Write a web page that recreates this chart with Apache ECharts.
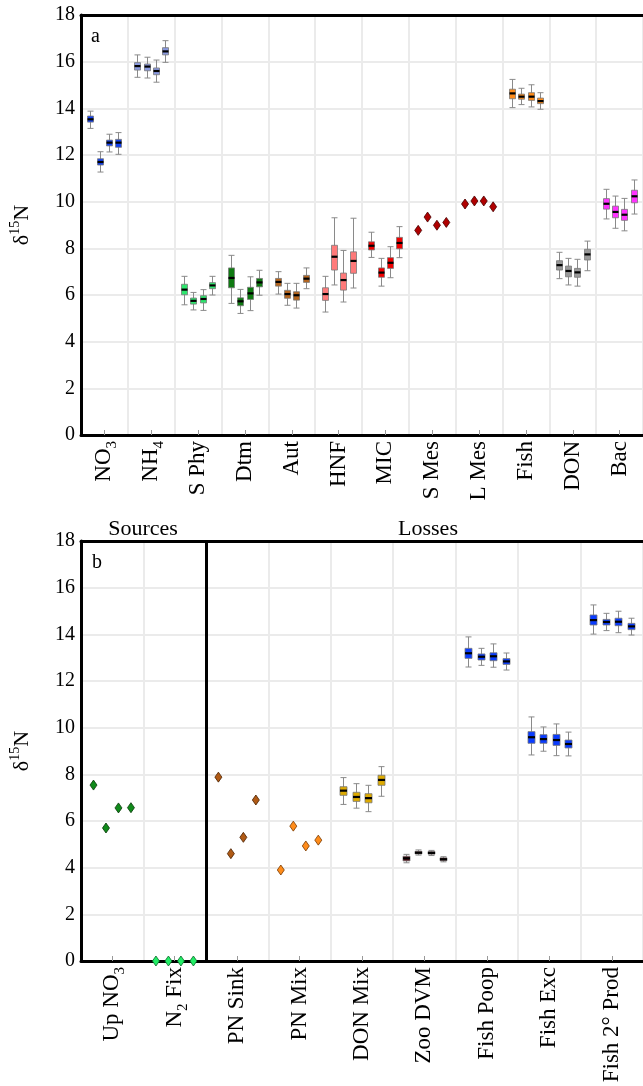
<!DOCTYPE html>
<html>
<head>
<meta charset="utf-8">
<script src="https://cdn.jsdelivr.net/npm/echarts@6/dist/echarts.min.js"></script>
<style>
  html, body { margin: 0; padding: 0; background: #fff; }
  #chart { width: 643px; height: 1086px; }
</style>
</head>
<body>
<div id="chart"></div>
<script>
// ---- data (box = [min, q1, median, q3, max]) ----
const catsA = ['NO_3', 'NH_4', 'S Phy', 'Dtm', 'Aut', 'HNF', 'MIC', 'S Mes', 'L Mes', 'Fish', 'DON', 'Bac'];
const catsB = ['Up NO_3', 'N_2 Fix', 'PN Sink', 'PN Mix', 'DON Mix', 'Zoo DVM', 'Fish Poop', 'Fish Exc', 'Fish 2° Prod'];
const yTicks = [0, 18, 2]; // min, max, step

const no3 = [[13.14, 13.41, 13.53, 13.67, 13.88], [11.27, 11.57, 11.7, 11.84, 12.14], [12.13, 12.39, 12.53, 12.64, 12.89], [12.03, 12.33, 12.53, 12.67, 12.96]];
const nh4 = [[15.33, 15.64, 15.81, 15.96, 16.29], [15.3, 15.61, 15.79, 15.9, 16.19], [15.12, 15.44, 15.6, 15.73, 16.07], [15.97, 16.29, 16.44, 16.6, 16.9]];
const sPhy = [[5.58, 6.01, 6.23, 6.46, 6.8], [5.36, 5.61, 5.75, 5.87, 6.11], [5.34, 5.66, 5.83, 5.97, 6.23], [6.0, 6.27, 6.41, 6.53, 6.8]];
const dtm = [[5.64, 6.31, 6.73, 7.16, 7.7], [5.21, 5.54, 5.73, 5.88, 6.24], [5.33, 5.81, 6.07, 6.33, 6.78], [5.99, 6.35, 6.54, 6.71, 7.06]];
const aut = [[6.04, 6.38, 6.56, 6.71, 7.0], [5.56, 5.86, 6.04, 6.2, 6.5], [5.44, 5.78, 5.99, 6.14, 6.5], [6.27, 6.54, 6.7, 6.84, 7.16]];
const hnf = [[5.27, 5.77, 6.04, 6.31, 6.8], [6.43, 7.07, 7.64, 8.13, 9.31], [5.7, 6.21, 6.64, 6.94, 7.91], [6.3, 6.93, 7.46, 7.85, 9.29]];
const mic = [[7.61, 7.93, 8.11, 8.28, 8.69], [6.38, 6.76, 6.96, 7.16, 7.57], [6.74, 7.14, 7.38, 7.6, 8.07], [7.6, 7.98, 8.23, 8.47, 8.93]];
const sMes = [8.77, 9.34, 8.99, 9.11];
const lMes = [9.9, 10.03, 10.03, 9.78];
const fish = [[14.03, 14.41, 14.64, 14.82, 15.24], [14.16, 14.39, 14.5, 14.61, 14.86], [14.06, 14.34, 14.5, 14.67, 15.01], [13.96, 14.2, 14.31, 14.44, 14.67]];
const don = [[6.7, 7.07, 7.28, 7.47, 7.83], [6.43, 6.78, 7.03, 7.24, 7.57], [6.38, 6.76, 6.97, 7.14, 7.53], [7.04, 7.5, 7.74, 7.96, 8.31]];
const bac = [[9.26, 9.68, 9.91, 10.13, 10.53], [8.86, 9.31, 9.56, 9.81, 10.24], [8.75, 9.2, 9.44, 9.67, 10.14], [9.47, 9.95, 10.23, 10.49, 10.93]];

const upNo3 = [7.54, 5.7, 6.56, 6.57];
const n2Fix = [0, 0, 0, 0];
const pnSink = [7.88, 4.6, 5.3, 6.9];
const pnMix = [3.9, 5.78, 4.93, 5.18];
const donMix = [[6.71, 7.1, 7.3, 7.47, 7.86], [6.55, 6.84, 7.03, 7.23, 7.6], [6.4, 6.78, 6.98, 7.17, 7.53], [7.06, 7.53, 7.76, 7.96, 8.33]];
const zooDvm = [[4.21, 4.29, 4.4, 4.49, 4.57], [4.54, 4.59, 4.64, 4.7, 4.76], [4.52, 4.58, 4.63, 4.69, 4.74], [4.25, 4.3, 4.36, 4.42, 4.47]];
const fishPoop = [[12.6, 12.97, 13.19, 13.4, 13.89], [12.67, 12.9, 13.04, 13.16, 13.4], [12.59, 12.87, 13.06, 13.21, 13.59], [12.47, 12.71, 12.84, 12.96, 13.2]];
const fishExc = [[8.83, 9.33, 9.59, 9.83, 10.46], [8.99, 9.33, 9.51, 9.7, 10.03], [8.8, 9.24, 9.47, 9.71, 10.16], [8.79, 9.13, 9.3, 9.47, 9.81]];
const fish2Prod = [[14.01, 14.4, 14.61, 14.83, 15.26], [14.16, 14.4, 14.53, 14.64, 14.9], [14.07, 14.37, 14.54, 14.69, 14.99], [13.97, 14.2, 14.34, 14.47, 14.69]];

// position of the 4 runs inside each category
const offsets = [-0.3, -0.1, 0.1, 0.3];

const FONT = 'Liberation Serif';
const GRID_GRAY = '#ebebeb';
const WHISKER = '#8a8a8a';

const boxData = (vals, k) => vals.map((b, i) => [k + 0.5 + offsets[i], ...b]);
const dotData = (vals, k) => vals.map((v, i) => [k + 0.5 + offsets[i], v]);

const makeRender = (color, w) => (params, api) => {
    const x = api.value(0);
    const pMin = api.coord([x, api.value(1)]);
    const pQ1 = api.coord([x, api.value(2)]);
    const pMed = api.coord([x, api.value(3)]);
    const pQ3 = api.coord([x, api.value(4)]);
    const pMax = api.coord([x, api.value(5)]);
    const cx = Math.round(pMin[0]) + 0.5;
    const line = (x1, y1, x2, y2, stroke, lw) => ({
        type: 'line', shape: { x1, y1, x2, y2 }, style: { stroke, lineWidth: lw }
    });
    return {
        type: 'group',
        children: [
            line(cx, pMax[1], cx, pMin[1], WHISKER, 1),
            line(cx - 3, pMax[1], cx + 3, pMax[1], WHISKER, 1),
            line(cx - 3, pMin[1], cx + 3, pMin[1], WHISKER, 1),
            {
                type: 'rect',
                shape: { x: cx - w / 2, y: pQ3[1], width: w, height: pQ1[1] - pQ3[1] },
                style: { fill: color, stroke: '#7a7a7a', lineWidth: 0.8 }
            },
            line(cx - w / 2, pMed[1], cx + w / 2, pMed[1], '#000', 2.2)
        ]
    };
};

const boxSeries = (vals, k, color, axisIdx, w) => ({
    type: 'custom',
    xAxisIndex: axisIdx,
    yAxisIndex: axisIdx / 2,
    data: boxData(vals, k),
    encode: { x: 0, y: [1, 2, 3, 4, 5] },
    renderItem: makeRender(color, w),
    animation: false,
    silent: true,
    z: 3
});

const dotSeries = (vals, k, color, border, axisIdx) => ({
    type: 'scatter',
    xAxisIndex: axisIdx,
    yAxisIndex: axisIdx / 2,
    data: dotData(vals, k),
    symbol: 'diamond',
    symbolSize: [7, 10],
    itemStyle: { color, borderColor: border, borderWidth: 0.8, opacity: 1 },
    animation: false,
    silent: true,
    z: 3
});

const subLabel = v => v.replace(/_(\d)/g, '{s|$1}');
const labelRich = {
    s: { fontFamily: FONT, fontSize: 15, lineHeight: 15, verticalAlign: 'bottom', color: '#000' }
};

const valueX = (gridIndex) => ({
    gridIndex, type: 'value', position: 'top', min: 0, max: gridIndex ? 9 : 12, interval: 1,
    axisLine: { show: true, onZero: false, lineStyle: { color: '#000', width: 3 } },
    axisTick: { show: false },
    axisLabel: { show: false },
    splitLine: { show: true, lineStyle: { color: GRID_GRAY, width: 2 } }
});

const catX = (gridIndex, cats) => ({
    gridIndex, type: 'category', position: 'bottom', data: cats, boundaryGap: true,
    axisLine: { show: true, onZero: false, lineStyle: { color: '#000', width: 3 } },
    axisTick: { show: true, inside: true, alignWithLabel: true, length: 5, lineStyle: { color: '#999', width: 1 } },
    axisLabel: {
        interval: 0, rotate: 90, margin: 6,
        fontFamily: FONT, fontSize: 23, color: '#000', lineHeight: 31,
        formatter: subLabel, rich: labelRich
    },
    splitLine: { show: false }
});

const valueY = (gridIndex) => ({
    gridIndex, type: 'value', min: yTicks[0], max: yTicks[1], interval: yTicks[2],
    axisLine: { show: true, lineStyle: { color: '#000', width: 3 } },
    axisTick: { show: false },
    axisLabel: { fontFamily: FONT, fontSize: 20, color: '#000', margin: 6 },
    splitLine: { show: true, lineStyle: { color: GRID_GRAY, width: 2 } },
    name: '{d|δ}{sup|15}{d|N}',
    nameLocation: 'middle', nameRotate: 90, nameGap: 44,
    nameTextStyle: {
        fontFamily: FONT, fontSize: 22, color: '#000',
        rich: {
            d: { fontFamily: FONT, fontSize: 22, lineHeight: 29, color: '#000' },
            sup: { fontFamily: FONT, fontSize: 14, lineHeight: 14, verticalAlign: 'top', color: '#000' }
        }
    }
});

const titleStyle = { fontFamily: FONT, fontSize: 20, fontWeight: 'normal', color: '#000' };
const headStyle = { fontFamily: FONT, fontSize: 22, fontWeight: 'normal', color: '#000' };

const chart = echarts.init(document.getElementById('chart'), null, { renderer: 'canvas' });

const sepLine = {
    silent: true, symbol: ['none', 'none'], animation: false,
    label: { show: false },
    lineStyle: { color: '#000', width: 3, type: 'solid' },
    data: [{ xAxis: 2 }]
};

const series = [
    // panel a
    boxSeries(no3, 0, '#1240f0', 0, 6),
    boxSeries(nh4, 1, '#8a9ae0', 0, 6),
    boxSeries(sPhy, 2, '#2ee66e', 0, 6),
    boxSeries(dtm, 3, '#0f7a12', 0, 6),
    boxSeries(aut, 4, '#b5651d', 0, 6),
    boxSeries(hnf, 5, '#ff7a7a', 0, 6),
    boxSeries(mic, 6, '#f00000', 0, 6),
    dotSeries(sMes, 7, '#b00000', '#4a0000', 0),
    dotSeries(lMes, 8, '#b00000', '#4a0000', 0),
    boxSeries(fish, 9, '#ff8c1a', 0, 6),
    boxSeries(don, 10, '#999999', 0, 6),
    boxSeries(bac, 11, '#ff33ff', 0, 6),
    // panel b
    Object.assign(dotSeries(upNo3, 0, '#0f8a1a', '#0a3a0a', 2), { markLine: sepLine }),
    dotSeries(n2Fix, 1, '#22ee66', '#0a6a2a', 2),
    dotSeries(pnSink, 2, '#b05a15', '#4a2000', 2),
    dotSeries(pnMix, 3, '#ff8c1a', '#7a3a00', 2),
    boxSeries(donMix, 4, '#ddaa00', 2, 7),
    boxSeries(zooDvm, 5, '#5a0a14', 2, 7),
    boxSeries(fishPoop, 6, '#0a3cff', 2, 7),
    boxSeries(fishExc, 7, '#0a3cff', 2, 7),
    boxSeries(fish2Prod, 8, '#0a3cff', 2, 7)
];

chart.setOption({
    backgroundColor: '#fff',
    animation: false,
    title: [
        { text: 'a', left: 86, top: 22, textStyle: titleStyle },
        { text: 'b', left: 87, top: 548, textStyle: titleStyle },
        { text: 'Sources', left: 138, top: 513, textAlign: 'center', textStyle: headStyle },
        { text: 'Losses', left: 423, top: 513, textAlign: 'center', textStyle: headStyle }
    ],
    grid: [
        { left: 75.5, top: 15, width: 570, height: 420, containLabel: false },
        { left: 75.5, top: 541, width: 570, height: 420, containLabel: false }
    ],
    xAxis: [valueX(0), catX(0, catsA), valueX(1), catX(1, catsB)],
    yAxis: [valueY(0), valueY(1)],
    series
});
</script>
</body>
</html>
